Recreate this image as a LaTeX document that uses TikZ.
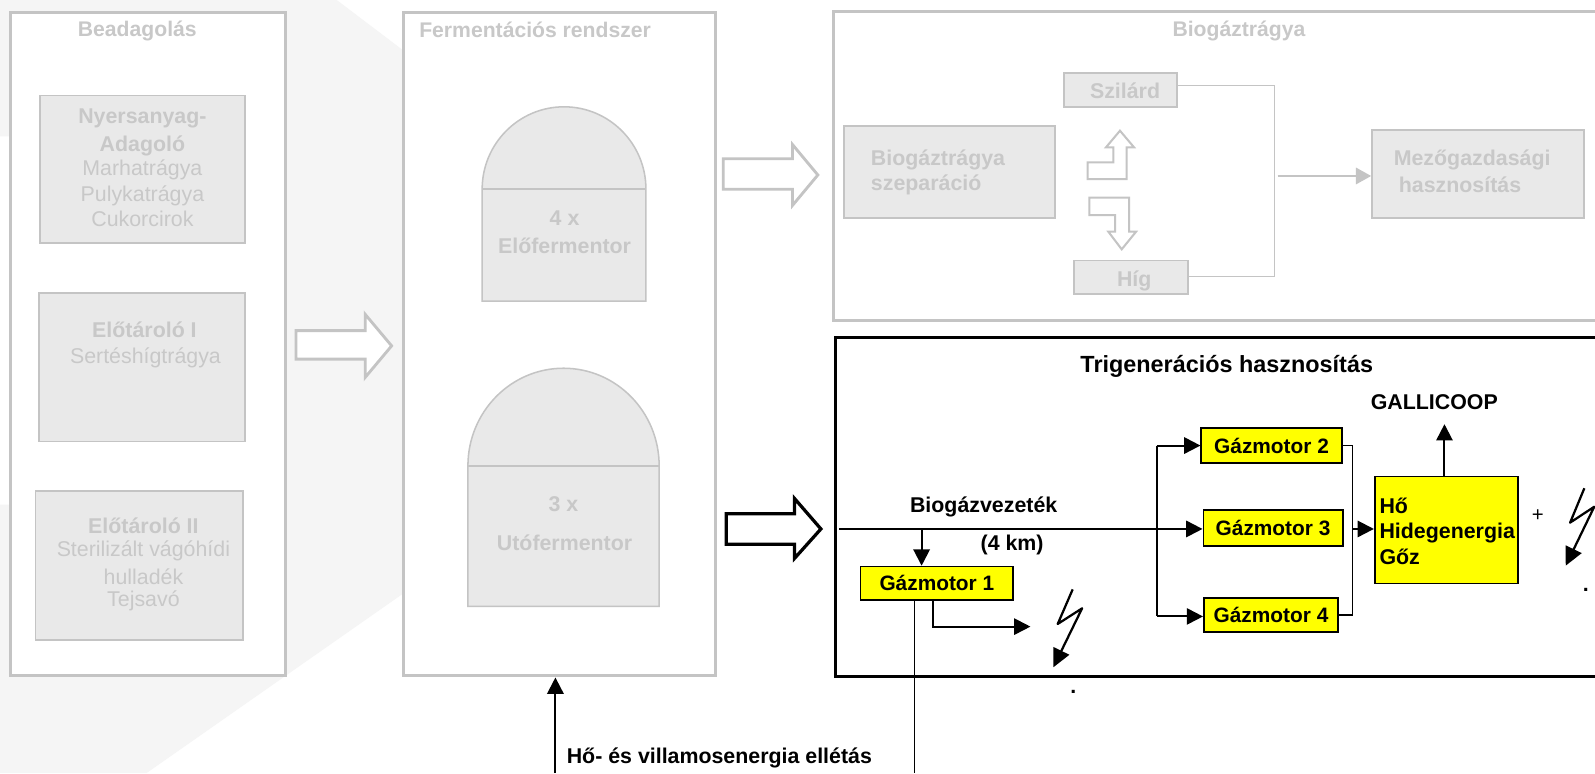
\documentclass[tikz,border=0pt]{standalone}
\usepackage{fontspec}
\setmainfont{Liberation Sans}
\usetikzlibrary{arrows.meta}
\definecolor{gl}{HTML}{C4C4C4}
\definecolor{gt}{HTML}{C8C8C8}
\definecolor{gf}{HTML}{E9E9E9}
\definecolor{bgp}{HTML}{F5F5F5}
\definecolor{ye}{HTML}{FFFF00}
\tikzset{
 x=1pt,y=-1pt,
 outer/.style={draw=gl,line width=2.8pt,fill=white},
 inner/.style={draw=gl,line width=1.7pt,fill=gf},
 ybox/.style={draw=black,line width=1.7pt,fill=ye,font=\fontsize{20.5}{24}\selectfont\bfseries,inner sep=0pt},
 gb/.style={text=gt,font=\fontsize{21}{26}\selectfont\bfseries,align=center,inner sep=0pt},
 gr/.style={text=gt,font=\fontsize{21}{26}\selectfont,align=center,inner sep=0pt},
 bt/.style={text=black,font=\fontsize{21}{24}\selectfont\bfseries,inner sep=0pt},
 gtitle/.style={text=gt,font=\fontsize{20.8}{24}\selectfont\bfseries,inner sep=0pt},
 wire/.style={draw=black,line width=1.8pt},
 arr/.style={draw=black,line width=2pt,-{Triangle[length=16pt,width=16pt]}},
 garr/.style={draw=gl,line width=2.2pt,-{Triangle[length=15pt,width=16pt]}},
 gwire/.style={draw=gl,line width=1.5pt},
 hollow/.style={draw=gl,line width=2.8pt,fill=white,miter limit=10},
 hollowb/.style={draw=black,line width=3.2pt,fill=white,miter limit=10},
 hollows/.style={draw=gl,line width=2pt,fill=white,miter limit=10},
 bolt/.style={draw=black,line width=2.2pt,line join=round,fill=none,-{Triangle[length=18pt,width=17pt]}},
}
\begin{document}
\begin{tikzpicture}
\useasboundingbox (0,0) rectangle (1568,760);
\fill[white] (0,0) rectangle (1568,760);
\fill[bgp] (0,0) -- (331,0) -- (397,50) -- (397,583) -- (144,760) -- (0,760) -- (0,496) -- (10,496) -- (10,134) -- (0,134) -- cycle;
% outer boxes
\draw[outer] (10,12) rectangle (281,664);
\draw[outer] (397,12) rectangle (703,664);
\draw[outer] (819,11) rectangle (1590,315);
\draw[draw=black,line width=3.2pt] (821,332) rectangle (1590,665);
% Beadagolás
\node[gtitle] (t1) at (135,30) {Beadagolás};
\draw[inner] (39,94) rectangle (241,239);
\draw[inner] (38,288) rectangle (241,434);
\draw[inner] (35,483) rectangle (239,629);
\node[gb] (n1a) at (140,116) {Nyersanyag-};
\node[gb] (n1b) at (140,143) {Adagoló};
\node[gr] (n1c) at (140,167) {Marhatrágya};
\node[gr] (n1d) at (140,193) {Pulykatrágya};
\node[gr] (n1e) at (140,215) {Cukorcirok};
\node[gb] (n2a) at (142,324) {Előtároló I};
\node[gr] (n2b) at (143,352) {Sertéshígtrágya};
\node[gb] (n3a) at (141,517) {Előtároló II};
\node[gr] (n3b) at (141,542) {Sterilizált vágóhídi};
\node[gr] (n3c) at (141,567) {hulladék};
\node[gr] (n3d) at (141,591) {Tejsavó};
% Fermentáció
\node[gtitle,anchor=west] (t2) at (412,29) {Fermentációs rendszer};
\draw[draw=gl,line width=1.5pt,fill=gf] (474,186) arc[start angle=-180,end angle=0,x radius=80.5,y radius=81] -- (635,296) -- (474,296) -- cycle;
\draw[draw=gl,line width=1.5pt] (474,186) -- (635,186);
\draw[draw=gl,line width=1.5pt,fill=gf] (460,458) arc[start angle=-180,end angle=0,x radius=94,y radius=96] -- (648,596) -- (460,596) -- cycle;
\draw[draw=gl,line width=1.5pt] (460,458) -- (648,458);
\node[gb] (f1a) at (555,214) {4 x};
\node[gb] (f1b) at (555,242) {Előfermentor};
\node[gb] (f2a) at (554,496) {3 x};
\node[gb] (f2b) at (555,534) {Utófermentor};
% hollow arrows
\draw[hollow] (291,325) -- (359,325) -- (359,309) -- (385,340) -- (359,371) -- (359,353) -- (291,353) -- cycle;
\draw[hollow] (711,156) -- (779,156) -- (779,142) -- (804,172) -- (779,202) -- (779,186) -- (711,186) -- cycle;
\draw[hollowb] (714,505) -- (781,505) -- (781,490) -- (807,520) -- (781,549) -- (781,535) -- (714,535) -- cycle;
% Biogáztrágya
\node[gtitle] (t3) at (1218,30) {Biogáztrágya};
\draw[inner] (830,124) rectangle (1037,214);
\draw[inner] (1046,72) rectangle (1157,105);
\draw[inner] (1056,256) rectangle (1168,289);
\draw[inner] (1349,128) rectangle (1557,214);
\node[gb,anchor=west] (b1) at (856,157) {Biogáztrágya};
\node[gb,anchor=west] (b2) at (856,182) {szeparáció};
\node[gb] (sz) at (1106,89) {Szilárd};
\node[gb] (hg) at (1115,276) {Híg};
\node[gb,anchor=west] (m1) at (1370,157) {Mezőgazdasági};
\node[gb,anchor=west] (m2) at (1375,182) {hasznosítás};
\draw[gwire] (1157,84) -- (1253,84) -- (1253,272) -- (1168,272);
\draw[garr] (1256,173) -- (1348,173);
\draw[hollows] (1069.3,159.6) -- (1094.5,159.6) -- (1094.5,144.8) -- (1087.3,144.8) -- (1101,128.5) -- (1114.8,144.8) -- (1107.6,144.8) -- (1107.6,176) -- (1069.3,176) -- cycle;
\draw[hollows] (1070.9,194.3) -- (1110,194.3) -- (1110,227.8) -- (1116.8,227.8) -- (1102.7,245.1) -- (1089.6,227.8) -- (1096.2,227.8) -- (1096.2,211.4) -- (1070.9,211.4) -- cycle;
% Trigeneráció
\node[bt,font=\fontsize{23}{26}\selectfont\bfseries] (tt) at (1206,360) {Trigenerációs hasznosítás};
\node[bt] (gal) at (1410,395) {GALLICOOP};
\node[bt] (bv) at (967,498) {Biogázvezeték};
\node[bt] (km) at (995,536) {(4 km)};
\node[ybox,minimum width=150pt,minimum height=33pt] (g1) at (921,573.5) {Gázmotor 1};
\node[ybox,minimum width=138pt,minimum height=34pt] (g2) at (1250,438) {Gázmotor 2};
\node[ybox,minimum width=137pt,minimum height=35pt] (g3) at (1251.5,519) {Gázmotor 3};
\node[ybox,minimum width=132pt,minimum height=33pt] (g4) at (1249.5,604.5) {Gázmotor 4};
\node[draw=black,line width=1.7pt,fill=ye,minimum width=141pt,minimum height=105pt,inner sep=0pt] (ho) at (1422,521) {};
\node[bt,anchor=west] (h1) at (1356,497) {Hő};
\node[bt,anchor=west] (h2) at (1356,524) {Hidegenergia};
\node[bt,anchor=west] (h3) at (1356,547) {Gőz};
\coordinate (src) at (825,520);
\coordinate (j1) at (906,520);
\coordinate (o1) at (1329.5,520);
\draw[arr] (src) -- (g3.west |- src);
\draw[arr] (j1) -- (g1.north -| j1);
\draw[wire] (1137,438) -- (1137,606);
\draw[arr] (1137,438) -- (g2.west);
\draw[arr] (1137,606) -- (g4.west |- 0,606);
\draw[wire,line width=1.6pt] (g2.east) -- (1329.5,438) -- (1329.5,604.5) -- (g4.east);
\draw[arr] (o1) -- (ho.west |- o1);
\draw[arr] (1420,468.5) -- (1420,417);
\draw[arr,line width=1.8pt] (917,590) -- (917,616) -- (1013,616);
\draw[draw=black,line width=1.4pt] (899,590) -- (899,760);
\coordinate (fb) at (546,666);
\draw[arr] (546,760) -- (fb);
\node[bt,anchor=west] (hv) at (557,745) {Hő- és villamosenergia ellétás};
% bolts
\draw[bolt] (1054.5,579.4) -- (1039.8,613.4) -- (1063.8,598) -- (1035.5,656);
\draw[bolt] (1557.5,480) -- (1543.5,513.8) -- (1567.3,498.1) -- (1539.2,556.1);
\node[bt,font=\fontsize{20}{24}\selectfont] (plus) at (1511.7,507) {+};
\node[bt] (d1) at (1055.2,680) {.};
\node[bt] (d2) at (1558.9,580) {.};
\end{tikzpicture}
\end{document}
